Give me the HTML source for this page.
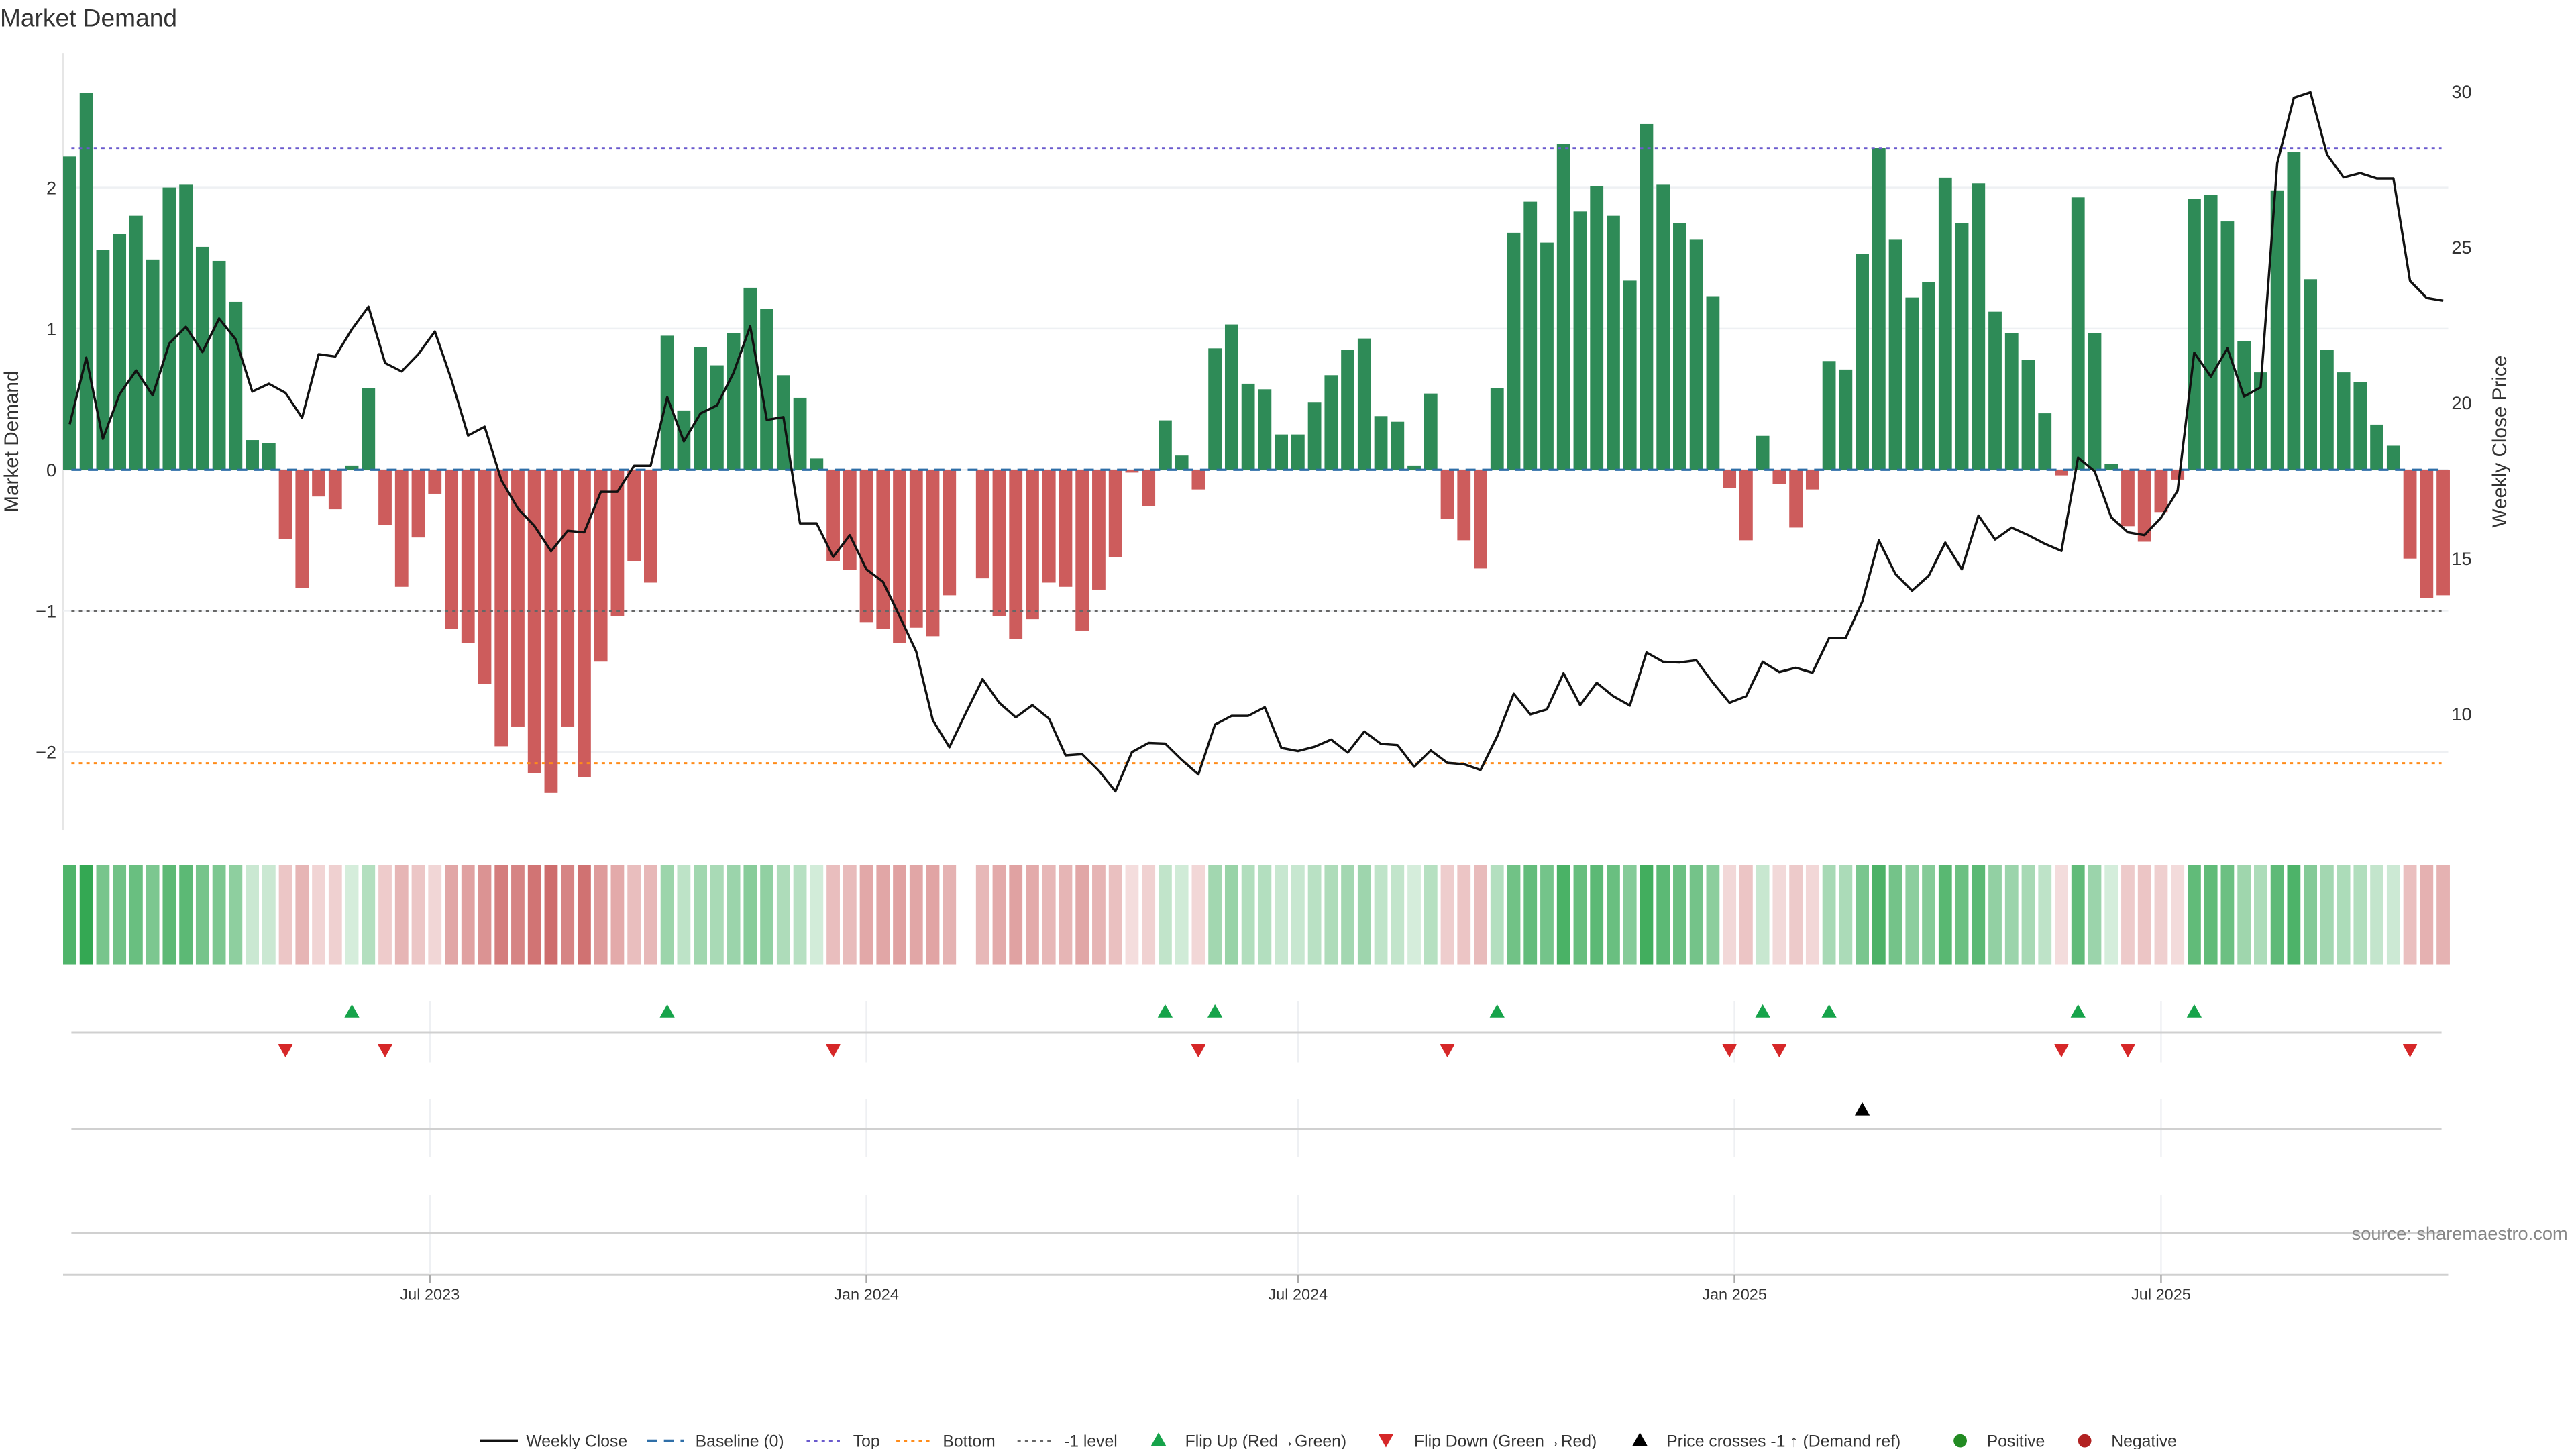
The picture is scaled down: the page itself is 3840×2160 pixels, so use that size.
<!DOCTYPE html>
<html><head><meta charset="utf-8"><title>Market Demand</title>
<style>
html,body{margin:0;padding:0;background:#fff;}
svg{display:block;font-family:"Liberation Sans","DejaVu Sans",sans-serif;}
</style></head>
<body>
<svg id="chart" width="3840" height="2160" viewBox="0 0 1552 873" xmlns="http://www.w3.org/2000/svg">
<rect x="0" y="0" width="1552" height="873" fill="#fff"/>
<text x="0" y="16" font-size="15" fill="#333">Market Demand</text>
<g id="main"></g>
<g id="strip"></g>
<g id="events"></g>
<g id="xaxis"></g>
<text x="1547" y="747" font-size="11" fill="#888" text-anchor="end">source: sharemaestro.com</text>
<g id="legend"></g>
</svg>
<script>
const demandValues = [2.22,2.67,1.56,1.67,1.80,1.49,2.00,2.02,1.58,1.48,1.19,0.21,0.19,-0.49,-0.84,-0.19,-0.28,0.03,0.58,-0.39,
-0.83,-0.48,-0.17,-1.13,-1.23,-1.52,-1.96,-1.82,-2.15,-2.29,-1.82,-2.18,-1.36,-1.04,-0.65,-0.80,0.95,0.42,0.87,0.74,
0.97,1.29,1.14,0.67,0.51,0.08,-0.65,-0.71,-1.08,-1.13,-1.23,-1.12,-1.18,-0.89,null,-0.77,-1.04,-1.20,-1.06,-0.80,
-0.83,-1.14,-0.85,-0.62,-0.02,-0.26,0.35,0.10,-0.14,0.86,1.03,0.61,0.57,0.25,0.25,0.48,0.67,0.85,0.93,0.38,
0.34,0.03,0.54,-0.35,-0.50,-0.70,0.58,1.68,1.90,1.61,2.31,1.83,2.01,1.80,1.34,2.45,2.02,1.75,1.63,1.23,
-0.13,-0.50,0.24,-0.10,-0.41,-0.14,0.77,0.71,1.53,2.28,1.63,1.22,1.33,2.07,1.75,2.03,1.12,0.97,0.78,0.40,
-0.04,1.93,0.97,0.04,-0.40,-0.51,-0.30,-0.07,1.92,1.95,1.76,0.91,0.69,1.98,2.25,1.35,0.85,0.69,0.62,0.32,
0.17,-0.63,-0.91,-0.89];
const closePrices = [19.3,21.44,18.83,20.26,21.03,20.23,21.9,22.43,21.62,22.7,22.03,20.35,20.6,20.31,19.51,21.55,21.48,22.35,23.08,21.27,
21.0,21.55,22.28,20.73,18.94,19.22,17.51,16.6,16.03,15.22,15.88,15.83,17.13,17.13,17.97,17.97,20.17,18.75,19.65,19.91,
20.96,22.45,19.44,19.53,16.12,16.12,15.04,15.74,14.64,14.24,13.13,12.0,9.79,8.92,10.03,11.11,10.35,9.88,10.28,9.84,
8.66,8.70,8.17,7.51,8.77,9.06,9.04,8.52,8.05,9.65,9.93,9.93,10.21,8.90,8.80,8.94,9.17,8.75,9.43,9.03,
8.99,8.30,8.82,8.42,8.38,8.19,9.27,10.64,9.98,10.14,11.30,10.28,10.99,10.56,10.26,11.97,11.67,11.65,11.72,11.0,
10.35,10.56,11.67,11.34,11.48,11.32,12.43,12.43,13.6,15.57,14.49,13.95,14.43,15.5,14.64,16.37,15.6,15.98,15.74,15.46,
15.23,18.23,17.79,16.31,15.83,15.74,16.3,17.17,21.6,20.83,21.74,20.19,20.49,27.69,29.79,29.97,27.97,27.23,27.37,27.2,
27.2,23.91,23.36,23.27];
const leftTicks = [-2,-1,0,1,2];
const rightTicks = [10,15,20,25,30];
const refLevels = [2.28,-2.08,-1];
const priceCrossIdx = [108];
const dateTickPos = [21.7,48,74,100.3,126];
const dateTickLabels = ["Jul 2023","Jan 2024","Jul 2024","Jan 2025","Jul 2025"];

const NS="http://www.w3.org/2000/svg";
function mk(parent,tag,attrs,text){const e=document.createElementNS(NS,tag);for(const k in attrs)e.setAttribute(k,attrs[k]);if(text!==undefined)e.textContent=text;parent.appendChild(e);return e;}
const xOf=i=>42+10*i;
const yL=v=>283-85*v;
const yR=p=>55+(30-p)*18.75;
const main=document.getElementById('main');

// axis frame & grid
let e=mk(main,'line',{x1:38,y1:32,x2:38,y2:500,stroke:'#e6e6e6','stroke-width':1});


leftTicks.forEach(t=>{
  let g=mk(main,'line',{x1:38,y1:yL(t),x2:1475,y2:yL(t),stroke:'#eef0f3','stroke-width':1});
  
  
  let tx=mk(main,'text',{x:34,y:yL(t)+4,'font-size':11,fill:'#333','text-anchor':'end'},t<0?'\u2212'+Math.abs(t):String(t));
  
  
});
rightTicks.forEach(t=>{
  let tx=mk(main,'text',{x:1477,y:yR(t)+4,'font-size':11,fill:'#333'},String(t));
  
  
});
e=mk(main,'text',{x:0,y:0,'font-size':12,fill:'#333','text-anchor':'middle',transform:'translate(11,266) rotate(-90)'},'Market Demand');


e=mk(main,'text',{x:0,y:0,'font-size':12,fill:'#333','text-anchor':'middle',transform:'translate(1510,266) rotate(-90)'},'Weekly Close Price');



// bars
demandValues.forEach((v,i)=>{
  if(v===null)return;
  const y0=yL(0),y1=yL(v);
  const r=mk(main,'rect',{x:xOf(i)-4,y:Math.min(y0,y1),width:8,height:Math.max(Math.abs(y1-y0),0.5),fill:v>=0?'#2e8b57':'#cd5c5c'});
  
  
});
// ref lines
const refColors=['#6a5acd','#ff8c1a','#666'];
const refNames=['top-line','bottom-line','minus-one-line'];
refLevels.forEach((v,k)=>{
  const l=mk(main,'line',{x1:43,y1:yL(v),x2:1471,y2:yL(v),stroke:refColors[k],'stroke-width':1.2,'stroke-dasharray':'2,2.5'});
  
  
});
e=mk(main,'line',{x1:43,y1:yL(0),x2:1471,y2:yL(0),stroke:'#2f6fa8','stroke-width':1.3,'stroke-dasharray':'6,4'});


// price line
const pts=closePrices.map((p,i)=>xOf(i)+','+yR(p).toFixed(1)).join(' ');
e=mk(main,'polyline',{points:pts,fill:'none',stroke:'#111','stroke-width':1.4,'stroke-linejoin':'round'});



// strip
const strip=document.getElementById('strip');
const maxAbs=Math.max(...demandValues.filter(v=>v!==null).map(Math.abs));
demandValues.forEach((v,i)=>{
  if(v===null)return;
  const a=0.2+0.8*Math.abs(v)/maxAbs;
  const r=mk(strip,'rect',{x:xOf(i)-4,y:521,width:8,height:60,fill:v>=0?'rgb(52,168,83)':'rgb(200,90,90)','fill-opacity':a.toFixed(3)});
  
  
});

// event rows
const ev=document.getElementById('events');
[[603,640,622],[662,697,680],[720,767,743]].forEach((row,k)=>{
  dateTickPos.forEach(p=>{
    const g=mk(ev,'line',{x1:xOf(p),y1:row[0],x2:xOf(p),y2:row[1],stroke:'#eef0f3','stroke-width':1});
    
    
  });
  const l=mk(ev,'line',{x1:43,y1:row[2],x2:1471,y2:row[2],stroke:'#d0d0d0','stroke-width':1.2});
  
  
});
let prev=null;
demandValues.forEach((v,i)=>{
  if(v===null)return;
  if(prev!==null){
    if(prev<0&&v>=0){
      const t=mk(ev,'path',{d:`M${xOf(i)-4.5},613 L${xOf(i)+4.5},613 L${xOf(i)},605 Z`,fill:'#16a34a'});
      
      
    } else if(prev>=0&&v<0){
      const t=mk(ev,'path',{d:`M${xOf(i)-4.5},629 L${xOf(i)+4.5},629 L${xOf(i)},637 Z`,fill:'#d62728'});
      
      
    }
  }
  prev=v;
});
priceCrossIdx.forEach(i=>{
  const t=mk(ev,'path',{d:`M${xOf(i)-4.5},672 L${xOf(i)+4.5},672 L${xOf(i)},664 Z`,fill:'#000'});
  
  
});

// x axis
const xa=document.getElementById('xaxis');
e=mk(xa,'line',{x1:38,y1:768,x2:1475,y2:768,stroke:'#d0d0d0','stroke-width':1.2});


dateTickPos.forEach((p,k)=>{
  const t=mk(xa,'line',{x1:xOf(p),y1:768,x2:xOf(p),y2:773,stroke:'#aaa','stroke-width':1});
  
  
  const tx=mk(xa,'text',{x:xOf(p),y:783,'font-size':9.5,fill:'#333','text-anchor':'middle'},dateTickLabels[k]);
  
  
});

// legend
const lg=document.getElementById('legend');
const ly=868;
function ltext(x,s){const t=mk(lg,'text',{x:x,y:ly+3.5,'font-size':10,fill:'#333'},s);}
e=mk(lg,'line',{x1:289,y1:ly,x2:312,y2:ly,stroke:'#111','stroke-width':1.6});ltext(317,'Weekly Close');
e=mk(lg,'line',{x1:390,y1:ly,x2:412,y2:ly,stroke:'#2f6fa8','stroke-width':1.5,'stroke-dasharray':'6,4'});ltext(419,'Baseline (0)');
e=mk(lg,'line',{x1:486,y1:ly,x2:508,y2:ly,stroke:'#6a5acd','stroke-width':1.3,'stroke-dasharray':'2,2.5'});ltext(514,'Top');
e=mk(lg,'line',{x1:540,y1:ly,x2:562,y2:ly,stroke:'#ff8c1a','stroke-width':1.3,'stroke-dasharray':'2,2.5'});ltext(568,'Bottom');
e=mk(lg,'line',{x1:613,y1:ly,x2:635,y2:ly,stroke:'#666','stroke-width':1.3,'stroke-dasharray':'2,2.5'});ltext(641,'-1 level');
e=mk(lg,'path',{d:`M693.5,${ly+3} L702.5,${ly+3} L698,${ly-5} Z`,fill:'#16a34a'});ltext(714,'Flip Up (Red\u2192Green)');
e=mk(lg,'path',{d:`M830.5,${ly-4} L839.5,${ly-4} L835,${ly+4} Z`,fill:'#d62728'});ltext(852,'Flip Down (Green\u2192Red)');
e=mk(lg,'path',{d:`M983.5,${ly+3} L992.5,${ly+3} L988,${ly-5} Z`,fill:'#000'});ltext(1004,'Price crosses -1 \u2191 (Demand ref)');
e=mk(lg,'circle',{cx:1181,cy:ly,r:4,fill:'#228b22'});ltext(1197,'Positive');
e=mk(lg,'circle',{cx:1256,cy:ly,r:4,fill:'#b22222'});ltext(1272,'Negative');
</script>
</body></html>
